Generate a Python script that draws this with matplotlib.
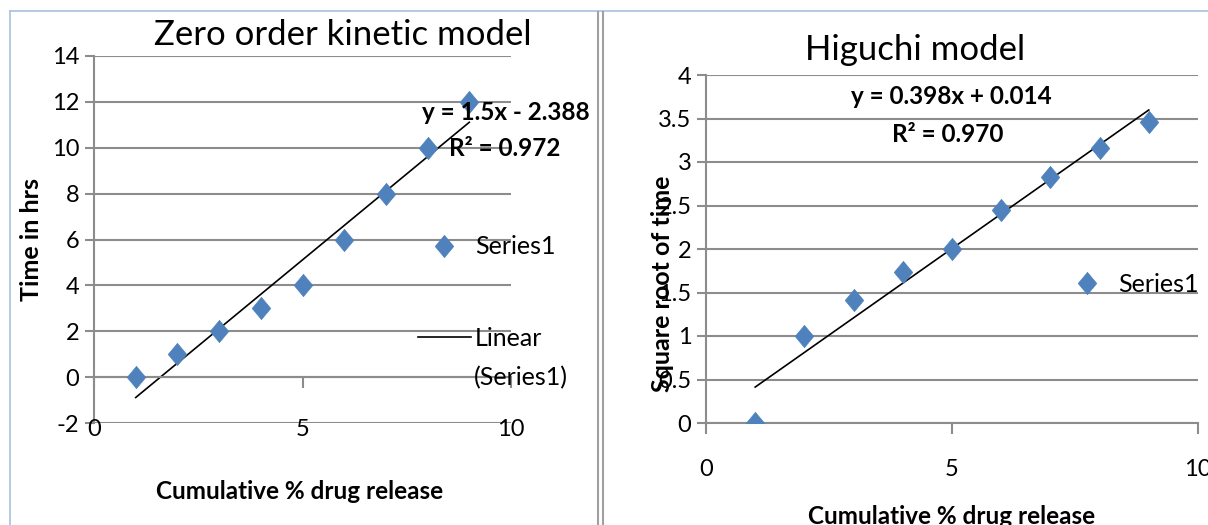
import numpy as np
import matplotlib
matplotlib.use("Agg")
import matplotlib.pyplot as plt
from matplotlib.lines import Line2D
import matplotlib.transforms as mtransforms

plt.rcParams['font.family'] = ['Lato', 'DejaVu Sans']
plt.rcParams['axes.unicode_minus'] = False

# --- data ---
release = [1, 2, 3, 4, 5, 6, 7, 8, 9]
time_hrs = [0, 1, 2, 3, 4, 6, 8, 10, 12]
sqrt_time = [0, 1, 1.414, 1.732, 2, 2.449, 2.828, 3.162, 3.464]
zero_eq = ["y = 1.5x - 2.388", "R\u00b2 = 0.972"]
higuchi_eq = ["y = 0.398x + 0.014", "R\u00b2 = 0.970"]
xticks = [0, 5, 10]
zero_yticks = [-2, 0, 2, 4, 6, 8, 10, 12, 14]
higuchi_yticks = [0, 0.5, 1, 1.5, 2, 2.5, 3, 3.5, 4]

W, H = 1208, 525
BLUE = '#4F81BD'
GRID = '#8C8C8C'
diamond = [(0, 1.2), (1, 0), (0, -1.2), (-1, 0), (0, 1.2)]

fig = plt.figure(figsize=(W / 100, H / 100), dpi=100)


def px_axes(x0, y_top, x1, y_bot):
    return fig.add_axes([x0 / W, 1 - y_bot / H, (x1 - x0) / W, (y_bot - y_top) / H])


def style_axes(ax, yticks, xlab_off):
    ax.set_xlim(0, 10)
    ax.set_yticks(yticks)
    ax.set_yticklabels([f"{v:g}" for v in yticks])
    ax.set_ylim(yticks[0], yticks[-1])
    ax.set_xticks(xticks)
    ax.yaxis.grid(True, color=GRID, lw=1.5)
    ax.set_axisbelow(True)
    for s in ['top', 'right']:
        ax.spines[s].set_visible(False)
    for s in ['left', 'bottom']:
        ax.spines[s].set_color(GRID)
        ax.spines[s].set_linewidth(1.5)
    ax.spines['bottom'].set_position(('data', 0))
    ax.tick_params(axis='y', length=6.5, width=1.5, color=GRID, labelsize=17, pad=4)
    ax.tick_params(axis='x', length=8, width=1.5, color=GRID, labelbottom=False)
    # x tick labels sit at the bottom of the plot area
    off = mtransforms.offset_copy(ax.get_xaxis_transform(), fig=fig, x=0, y=-xlab_off, units='dots')
    for v in xticks:
        ax.text(v, 0, str(v), transform=off, ha='center', va='center', fontsize=17)


def trend(ax, x, y):
    k, b = np.polyfit(x, y, 1)
    xs = np.array([min(x), max(x)])
    return ax.plot(xs, k * xs + b, color='black', lw=1.2)[0]


LEG = dict(frameon=False, fontsize=18, handlelength=2.1, handletextpad=0.17, borderpad=0, borderaxespad=0)
pix = mtransforms.Affine2D().scale(1, -1).translate(0, H)  # pixel coords from top-left

# ---------- left: zero order ----------
ax1 = px_axes(94, 56, 511, 423)
style_axes(ax1, zero_yticks, 6)
pts1, = ax1.plot(release, time_hrs, ls='none', marker=diamond, ms=16, color=BLUE, mec=BLUE, mew=0.5, zorder=3)
ln1 = trend(ax1, release, time_hrs)
ax1.text(0.597, 1.057, "Zero order kinetic model", transform=ax1.transAxes, ha='center', va='center', fontsize=25)
ax1.set_ylabel("Time in hrs", fontsize=18, fontweight='bold')
ax1.yaxis.set_label_coords(-0.122, 0.5)
ax1.text(0.494, -0.188, "Cumulative % drug release", transform=ax1.transAxes, ha='center', va='center',
         fontsize=17.5, fontweight='bold')
ax1.text(0.988, 0.847, zero_eq[0], transform=ax1.transAxes, ha='center', va='center', fontsize=17.5, fontweight='bold')
ax1.text(0.986, 0.747, zero_eq[1], transform=ax1.transAxes, ha='center', va='center', fontsize=17.5, fontweight='bold')
ax1.legend([pts1, ln1], ["Series1", "Linear"], loc='upper left', bbox_to_anchor=(0.777, 0.511),
           labelspacing=2.73, **LEG)
ax1.text(474, 378, "(Series1)", transform=pix, ha='left', va='center', fontsize=18)

# ---------- right: Higuchi ----------
ax2 = px_axes(706, 75, 1198, 423)
style_axes(ax2, higuchi_yticks, 47)
pts2, = ax2.plot(release, sqrt_time, ls='none', marker=diamond, ms=16, color=BLUE, mec=BLUE, mew=0.5, zorder=3)
trend(ax2, release, sqrt_time)
ax2.text(0.425, 1.072, "Higuchi model", transform=ax2.transAxes, ha='center', va='center', fontsize=25)
ax2.set_ylabel("Square root of time", fontsize=18, fontweight='bold')
ax2.yaxis.set_label_coords(-0.066, 0.40)
ax2.text(0.5, -0.27, "Cumulative % drug release", transform=ax2.transAxes, ha='center', va='center',
         fontsize=17.5, fontweight='bold')
ax2.text(0.498, 0.937, higuchi_eq[0], transform=ax2.transAxes, ha='center', va='center', fontsize=17.5, fontweight='bold')
ax2.text(0.492, 0.828, higuchi_eq[1], transform=ax2.transAxes, ha='center', va='center', fontsize=17.5, fontweight='bold')
ax2.legend([pts2], ["Series1"], loc='center left', bbox_to_anchor=(0.7215, 0.399), **LEG)

# ---------- chart borders / divider ----------
fig.add_artist(Line2D([10 / W, 1], [1 - 11 / H] * 2, color='#A7C0DE', lw=1.2))
fig.add_artist(Line2D([10 / W] * 2, [0, 1 - 11 / H], color='#A7C0DE', lw=1.2))
for xd in (598, 603):
    fig.add_artist(Line2D([xd / W] * 2, [0, 1 - 12 / H], color='#A0A0A0', lw=1.5))

fig.savefig("out.png", dpi=100)
